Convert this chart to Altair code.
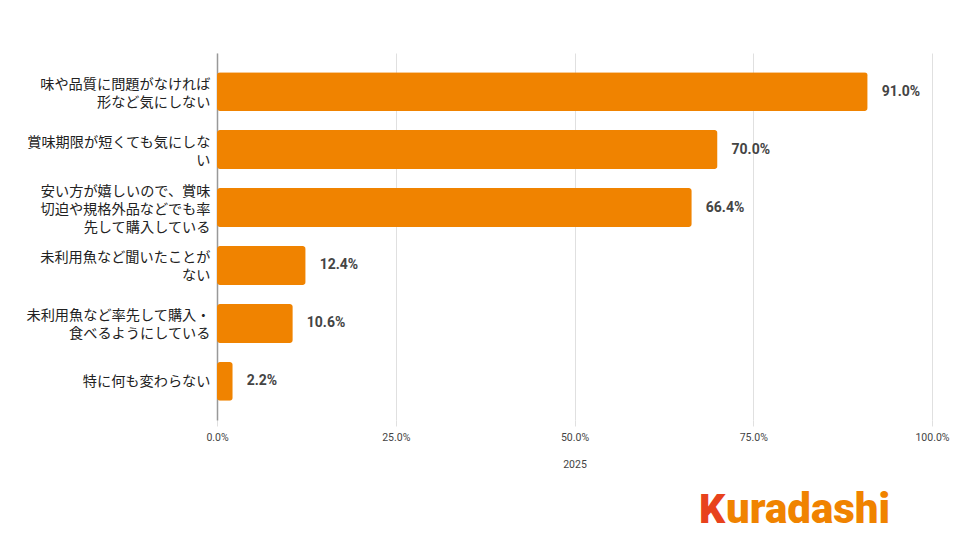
import altair as alt
import pandas as pd

categories = [
    "味や品質に問題がなければ|形など気にしない",
    "賞味期限が短くても気にしな|い",
    "安い方が嬉しいので、賞味|切迫や規格外品などでも率|先して購入している",
    "未利用魚など聞いたことが|ない",
    "未利用魚など率先して購入・|食べるようにしている",
    "特に何も変わらない",
]
values = [91.0, 70.0, 66.4, 12.4, 10.6, 2.2]
series_name = "2025"

df = pd.DataFrame({"cat": categories, "val": [v / 100 for v in values],
                   "label": [f"{v:.1f}%" for v in values]})

FONT = "Roboto, Noto Sans CJK JP, sans-serif"
ORANGE = "#F08300"

base = alt.Chart(df)

label_offset = {
    "condition": [
        {"test": "length(split(datum.value, '|')) == 3", "value": -16},
        {"test": "length(split(datum.value, '|')) == 2", "value": -7},
    ],
    "value": 1,
}

y_enc = alt.Y("cat:N", sort=categories, title=None,
              scale=alt.Scale(paddingInner=0.33, paddingOuter=0.33),
              axis=alt.Axis(labelExpr="split(datum.label, '|')", labelFontSize=14.2,
                            labelColor="#222", labelFont=FONT, labelPadding=7,
                            labelLineHeight=18, ticks=False, domainColor="#999",
                            domainWidth=1.5, labelLimit=300,
                            labelOffset=label_offset))

bars = base.mark_bar(color=ORANGE, cornerRadius=3).encode(
    x=alt.X("val:Q", title=series_name,
            scale=alt.Scale(domain=[0, 1]),
            axis=alt.Axis(format=".1%", values=[0, 0.25, 0.5, 0.75, 1.0],
                          grid=True, gridColor="#e0e0e0", domain=False,
                          tickColor="#e0e0e0", tickSize=6, labelFontSize=10.5,
                          labelColor="#444", labelFont=FONT, labelPadding=6,
                          labelFlush=False,
                          titleFont=FONT, titleFontSize=10.5, titleFontWeight="normal",
                          titleColor="#444", titlePadding=17)),
    y=y_enc,
)

texts = base.mark_text(align="left", dx=14, fontSize=14, fontWeight="bold",
                       color="#444", font=FONT).encode(
    x="val:Q", y=alt.Y("cat:N", sort=categories), text="label:N")

logo_k = alt.Chart(pd.DataFrame({"t": ["K"]})).mark_text(
    align="left", baseline="alphabetic", fontSize=41, fontWeight=900,
    font="Roboto", color="#E8421C").encode(
    x=alt.value(482), y=alt.value(470), text="t:N")
logo_rest = alt.Chart(pd.DataFrame({"t": ["uradashi"]})).mark_text(
    align="left", baseline="alphabetic", fontSize=42, fontWeight=900,
    font="Roboto", color=ORANGE).encode(
    x=alt.value(509), y=alt.value(470), text="t:N")

chart = alt.layer(bars, texts, logo_k, logo_rest).properties(
    width=715, height=367,
    autosize=alt.AutoSizeParams(type="none"),
    padding={"left": 209, "top": 45, "right": 20, "bottom": 130},
).configure_view(stroke=None)

chart.save("out.html", embed_options={"renderer": "svg", "actions": False})
